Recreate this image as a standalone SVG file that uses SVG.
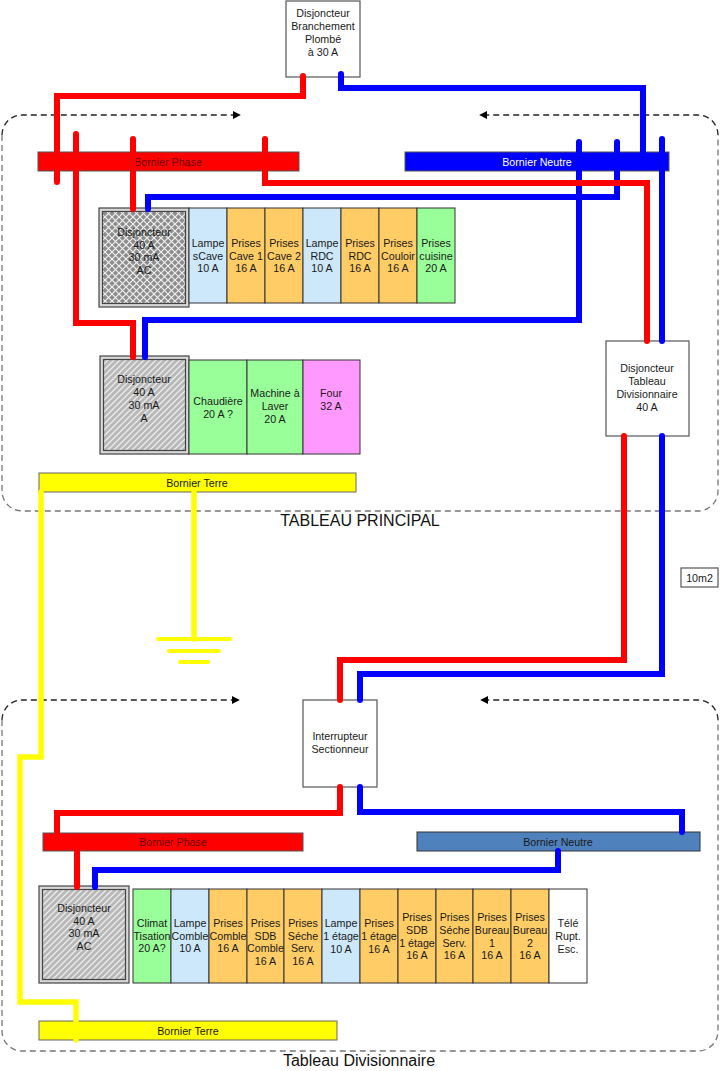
<svg xmlns="http://www.w3.org/2000/svg" width="720" height="1071" viewBox="0 0 720 1071">
<style>
.t{font-family:'Liberation Sans',Arial,sans-serif;font-size:10.7px;text-anchor:middle;fill:#1a1a1a}
.big{font-size:16px;fill:#111}
.w{fill:none;stroke-width:6;stroke-linecap:round;stroke-linejoin:miter}
.r{stroke:#ff0000}
.b{stroke:#0000ff}
.y{stroke:#ffff00;stroke-width:5.5}
.box{fill:#fff;stroke:#555;stroke-width:1.2}
.cell{stroke:#333;stroke-width:1}
.lb{fill:#cce8fa}
.or{fill:#ffcc66}
.gr{fill:#99ff99}
.pk{fill:#ff99ff}
.wh{fill:#ffffff}
.dj{fill:#d8d8d8;stroke:#444;stroke-width:1.2}
.dji{stroke:#444;stroke-width:1.2}
.cont{fill:none;stroke:#777;stroke-width:1.3;stroke-dasharray:6,4}
.conttop{fill:none;stroke:#222;stroke-width:1.3;stroke-dasharray:6,4}
.bp{fill:#ff0000;stroke:#555;stroke-width:1}
.bn{fill:#0000ff;stroke:#555;stroke-width:1}
.bn2{fill:#4f81bd;stroke:#333;stroke-width:1}
.bt{fill:#ffff00;stroke:#666;stroke-width:1}
</style>
<defs>
<pattern id="cross" patternUnits="userSpaceOnUse" width="7" height="7">
<rect width="7" height="7" fill="#8c8c8c"/>
<path d="M0,0 L7,7 M7,0 L0,7" stroke="#f0f0f0" stroke-width="1.2"/>
</pattern>
<pattern id="diag" patternUnits="userSpaceOnUse" width="6" height="6">
<rect width="6" height="6" fill="#b8b8b8"/>
<path d="M-1,7 L7,-1 M-1,1 L1,-1 M5,7 L7,5" stroke="#ececec" stroke-width="1.3"/>
</pattern>
<marker id="ah" viewBox="0 0 10 10" refX="9" refY="5" markerWidth="8" markerHeight="8" markerUnits="userSpaceOnUse" orient="auto-start-reverse">
<path d="M0,0 L10,5 L0,10 Z" fill="#000"/>
</marker>
</defs>
<rect width="720" height="1071" fill="#ffffff"/>

<g id="container-principal">
<path class="cont" d="M2,135 V491 A20,20 0 0 0 22,511 H698 A20,20 0 0 0 718,491 V135"/>
<path class="conttop" d="M2,135 A20,20 0 0 1 22,115 H240" marker-end="url(#ah)"/>
<path class="conttop" d="M718,135 A20,20 0 0 0 698,115 H480" marker-end="url(#ah)"/>
<text class="t big" x="360" y="526">TABLEAU PRINCIPAL</text>
</g>
<g id="container-divisionnaire">
<path class="cont" d="M2,720 V1031 A20,20 0 0 0 22,1051 H698 A20,20 0 0 0 718,1031 V720"/>
<path class="conttop" d="M2,720 A20,20 0 0 1 22,700 H239" marker-end="url(#ah)"/>
<path class="conttop" d="M718,720 A20,20 0 0 0 698,700 H481" marker-end="url(#ah)"/>
<text class="t big" x="359" y="1066">Tableau Divisionnaire</text>
</g>

<g id="disj-branchement">
<rect class="box" x="286" y="1" width="74" height="76"/>
<text class="t" x="323" y="17">Disjoncteur</text>
<text class="t" x="323" y="30">Branchement</text>
<text class="t" x="323" y="43">Plombé</text>
<text class="t" x="323" y="56">à 30 A</text>
</g>

<g id="bornier-phase-1">
<rect class="bp" x="38" y="152" width="261" height="19"/>
<text class="t" x="168" y="165.5" style="fill:#6b0000">Bornier Phase</text>
</g>
<g id="bornier-neutre-1">
<rect class="bn" x="405" y="152" width="264" height="19"/>
<text class="t" x="537" y="165.5" style="fill:#ffffff">Bornier Neutre</text>
</g>

<g id="disj-1">
<rect class="dj" x="99" y="208" width="90" height="99"/>
<rect class="dji" x="102.5" y="211.5" width="83" height="92" fill="url(#cross)"/>
<text class="t" x="144" y="236">Disjoncteur</text>
<text class="t" x="144" y="249">40 A</text>
<text class="t" x="144" y="261">30 mA</text>
<text class="t" x="144" y="274">AC</text>
</g>
<g id="row-1">
<rect class="cell lb" x="189" y="208" width="38" height="95"/>
<rect class="cell or" x="227" y="208" width="38" height="95"/>
<rect class="cell or" x="265" y="208" width="38" height="95"/>
<rect class="cell lb" x="303" y="208" width="38" height="95"/>
<rect class="cell or" x="341" y="208" width="38" height="95"/>
<rect class="cell or" x="379" y="208" width="38" height="95"/>
<rect class="cell gr" x="417" y="208" width="38" height="95"/>
<text class="t" x="208" y="247">Lampe</text><text class="t" x="208" y="260">sCave</text><text class="t" x="208" y="272">10 A</text>
<text class="t" x="246" y="247">Prises</text><text class="t" x="246" y="260">Cave 1</text><text class="t" x="246" y="272">16 A</text>
<text class="t" x="284" y="247">Prises</text><text class="t" x="284" y="260">Cave 2</text><text class="t" x="284" y="272">16 A</text>
<text class="t" x="322" y="247">Lampe</text><text class="t" x="322" y="260">RDC</text><text class="t" x="322" y="272">10 A</text>
<text class="t" x="360" y="247">Prises</text><text class="t" x="360" y="260">RDC</text><text class="t" x="360" y="272">16 A</text>
<text class="t" x="398" y="247">Prises</text><text class="t" x="398" y="260">Couloir</text><text class="t" x="398" y="272">16 A</text>
<text class="t" x="436" y="247">Prises</text><text class="t" x="436" y="260">cuisine</text><text class="t" x="436" y="272">20 A</text>
</g>

<g id="disj-2">
<rect class="dj" x="100" y="356" width="89" height="98"/>
<rect class="dji" x="103.5" y="359.5" width="82" height="91" fill="url(#diag)"/>
<text class="t" x="144" y="383">Disjoncteur</text>
<text class="t" x="144" y="396">40 A</text>
<text class="t" x="144" y="409">30 mA</text>
<text class="t" x="144" y="422">A</text>
</g>
<g id="row-2">
<rect class="cell gr" x="189" y="360" width="58" height="94"/>
<rect class="cell gr" x="247" y="360" width="56" height="94"/>
<rect class="cell pk" x="303" y="360" width="57" height="94"/>
<text class="t" x="218" y="405">Chaudière</text><text class="t" x="218" y="418">20 A ?</text>
<text class="t" x="275" y="397">Machine à</text><text class="t" x="275" y="410">Laver</text><text class="t" x="275" y="423">20 A</text>
<text class="t" x="331" y="397">Four</text><text class="t" x="331" y="410">32 A</text>
</g>

<g id="disj-tableau-div">
<rect class="box" x="606" y="341" width="83" height="95"/>
<text class="t" x="647" y="372">Disjoncteur</text>
<text class="t" x="647" y="385">Tableau</text>
<text class="t" x="647" y="398">Divisionnaire</text>
<text class="t" x="647" y="411">40 A</text>
</g>

<g id="bornier-terre-1">
<rect class="bt" x="39" y="473" width="317" height="19"/>
<text class="t" x="197" y="486.5">Bornier Terre</text>
</g>

<g id="terre">
<path d="M158,639 H230 M169,651 H219 M180,662 H208" stroke="#ffff00" stroke-width="4" stroke-linecap="round" fill="none"/>
</g>

<g id="section-10m2">
<rect class="box" x="681" y="568" width="37" height="19"/>
<text class="t" x="699.5" y="581.5">10m2</text>
</g>

<g id="interrupteur">
<rect class="box" x="303" y="700" width="74" height="87"/>
<text class="t" x="340" y="740">Interrupteur</text>
<text class="t" x="340" y="753">Sectionneur</text>
</g>

<g id="bornier-phase-2">
<rect class="bp" x="43" y="833" width="260" height="18"/>
<text class="t" x="173" y="845.5" style="fill:#6b0000">Bornier Phase</text>
</g>
<g id="bornier-neutre-2">
<rect class="bn2" x="417" y="832" width="283" height="19"/>
<text class="t" x="558" y="845.5">Bornier Neutre</text>
</g>

<g id="disj-3">
<rect class="dj" x="39" y="886" width="90" height="97"/>
<rect class="dji" x="42.5" y="889.5" width="83" height="90" fill="url(#diag)"/>
<text class="t" x="84" y="912">Disjoncteur</text>
<text class="t" x="84" y="925">40 A</text>
<text class="t" x="84" y="937">30 mA</text>
<text class="t" x="84" y="950">AC</text>
</g>
<g id="row-3">
<rect class="cell gr" x="133" y="889" width="38" height="94"/>
<rect class="cell lb" x="171" y="889" width="38" height="94"/>
<rect class="cell or" x="209" y="889" width="38" height="94"/>
<rect class="cell or" x="247" y="889" width="37" height="94"/>
<rect class="cell or" x="284" y="889" width="38" height="94"/>
<rect class="cell lb" x="322" y="889" width="38" height="94"/>
<rect class="cell or" x="360" y="889" width="38" height="94"/>
<rect class="cell or" x="398" y="889" width="38" height="94"/>
<rect class="cell or" x="436" y="889" width="37" height="94"/>
<rect class="cell or" x="473" y="889" width="38" height="94"/>
<rect class="cell or" x="511" y="889" width="38" height="94"/>
<rect class="cell wh" x="549" y="889" width="38" height="94"/>
<text class="t" x="152" y="927">Climat</text><text class="t" x="152" y="940">Tisation</text><text class="t" x="152" y="952">20 A?</text>
<text class="t" x="190" y="927">Lampe</text><text class="t" x="190" y="940">Comble</text><text class="t" x="190" y="952">10 A</text>
<text class="t" x="228" y="927">Prises</text><text class="t" x="228" y="940">Comble</text><text class="t" x="228" y="952">16 A</text>
<text class="t" x="265.5" y="927">Prises</text><text class="t" x="265.5" y="940">SDB</text><text class="t" x="265.5" y="952">Comble</text><text class="t" x="265.5" y="965">16 A</text>
<text class="t" x="303" y="927">Prises</text><text class="t" x="303" y="940">Séche</text><text class="t" x="303" y="952">Serv.</text><text class="t" x="303" y="965">16 A</text>
<text class="t" x="341" y="927">Lampe</text><text class="t" x="341" y="940">1 étage</text><text class="t" x="341" y="953">10 A</text>
<text class="t" x="379" y="927">Prises</text><text class="t" x="379" y="940">1 étage</text><text class="t" x="379" y="953">16 A</text>
<text class="t" x="417" y="921">Prises</text><text class="t" x="417" y="934">SDB</text><text class="t" x="417" y="947">1 étage</text><text class="t" x="417" y="959">16 A</text>
<text class="t" x="454.5" y="921">Prises</text><text class="t" x="454.5" y="934">Séche</text><text class="t" x="454.5" y="947">Serv.</text><text class="t" x="454.5" y="959">16 A</text>
<text class="t" x="492" y="921">Prises</text><text class="t" x="492" y="934">Bureau</text><text class="t" x="492" y="947">1</text><text class="t" x="492" y="959">16 A</text>
<text class="t" x="530" y="921">Prises</text><text class="t" x="530" y="934">Bureau</text><text class="t" x="530" y="947">2</text><text class="t" x="530" y="959">16 A</text>
<text class="t" x="568" y="927">Télé</text><text class="t" x="568" y="940">Rupt.</text><text class="t" x="568" y="953">Esc.</text>
</g>

<g id="bornier-terre-2">
<rect class="bt" x="39" y="1021" width="298" height="19"/>
<text class="t" x="188" y="1034.5">Bornier Terre</text>
</g>

<g id="connectors">
<path class="w b" d="M341,74 V88 H643 V153"/>
<path class="w b" d="M579,142 V320 H145 V357"/>
<path class="w b" d="M617,142 V197 H148 V209"/>
<path class="w b" d="M662,139 V341"/>
<path class="w r" d="M303,76 V96 H57 V182"/>
<path class="w r" d="M76,134 V323 H133 V357"/>
<path class="w r" d="M133,139 V209"/>
<path class="w r" d="M265,139 V183 H647 V341"/>
<path class="w r" d="M624,436 V660 H340 V700"/>
<path class="w b" d="M662,436 V674 H360 V700"/>
<path class="w r" d="M340,787 V813 H57 V833"/>
<path class="w b" d="M360,787 V812 H682 V832"/>
<path class="w r" d="M77,851 V887"/>
<path class="w b" d="M558,851 V870 H95 V887"/>
<path class="w y" stroke-linecap="butt" d="M41,492 V757 H20 V1002 H76 V1040"/>
<path class="w y" stroke-linecap="butt" d="M194,492 V639"/>
</g>
</svg>
